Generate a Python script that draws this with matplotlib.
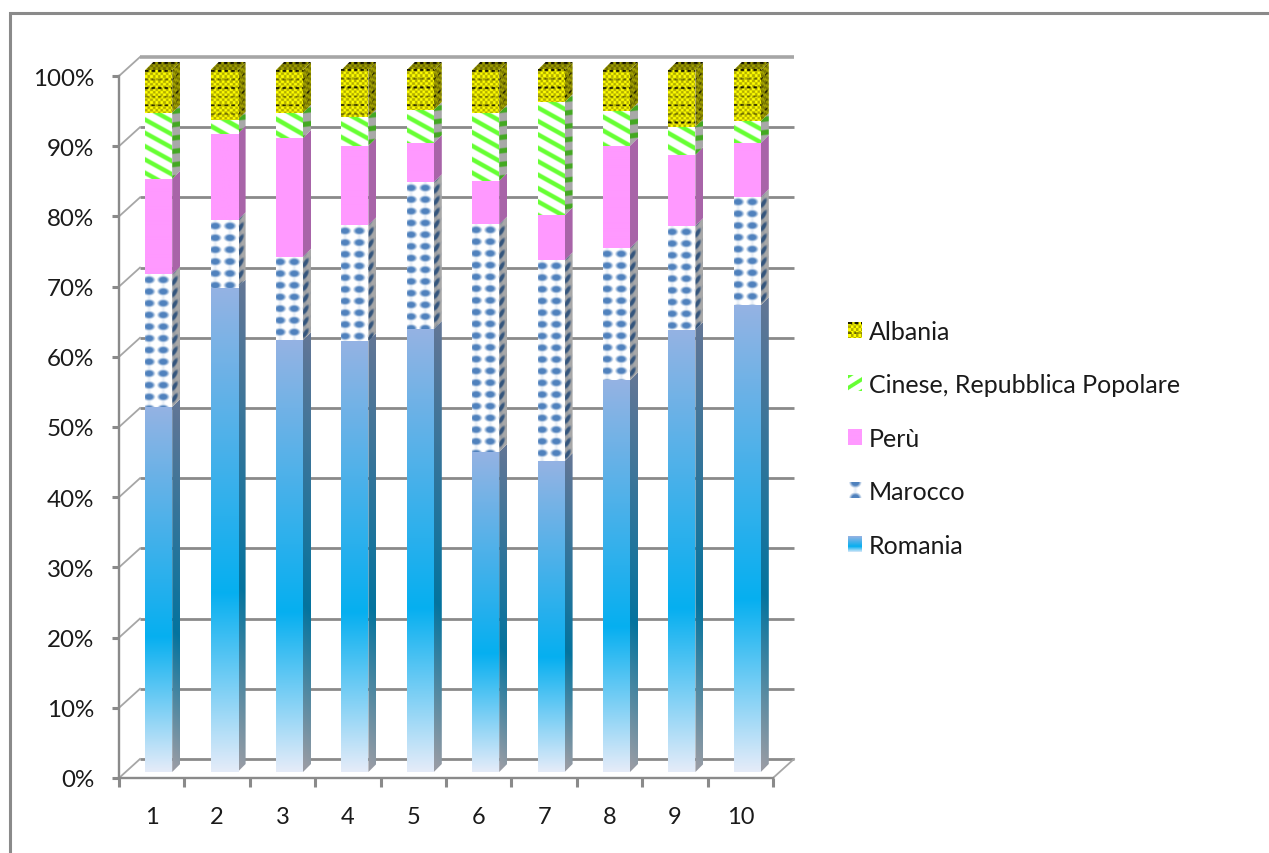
import numpy as np
import matplotlib
matplotlib.use("Agg")
import matplotlib.pyplot as plt
from matplotlib.patches import Polygon, Rectangle, Patch
from matplotlib.image import BboxImage
from matplotlib.transforms import Bbox, TransformedBbox
from matplotlib.legend_handler import HandlerBase

categories = ["1", "2", "3", "4", "5", "6", "7", "8", "9", "10"]
romania = [52.0, 69.0, 61.5, 61.4, 63.1, 45.6, 44.3, 55.8, 63.0, 66.5]
marocco = [18.9, 9.6, 11.9, 16.5, 20.9, 32.4, 28.6, 18.8, 14.8, 15.4]
peru = [13.6, 12.3, 16.9, 11.3, 5.6, 6.2, 6.4, 14.6, 10.1, 7.7]
cinese = [9.4, 2.0, 3.6, 4.1, 4.7, 9.7, 16.1, 5.0, 4.0, 3.1]
albania = [6.1, 7.1, 6.1, 6.7, 5.7, 6.1, 4.6, 5.8, 8.1, 7.3]
series_names = ["Romania", "Marocco", "Perù", "Cinese, Repubblica Popolare", "Albania"]
series_values = [romania, marocco, peru, cinese, albania]
y_ticks = list(range(0, 101, 10))

FONT = "Lato"
GRAY = "#8A8A8A"
W, H = 1269, 854
L, R, T, B = 119, 773, 77, 779
PX_X = (R - L) / 10
PX_Y = (B - T) / 100

fig = plt.figure(figsize=(W / 100, H / 100), dpi=100, facecolor="white")
ax = fig.add_axes([L / W, 1 - B / H, (R - L) / W, (B - T) / H])
ax.set_xlim(0.5, 10.5)
ax.set_ylim(0, 100)


def hex_rgb(c):
    return np.array(matplotlib.colors.to_rgb(c))


def smooth(d):
    return np.clip(d, 0, 1)


def texture(name, X, Y, frac):
    s = X.shape + (3,)
    if name == "Romania":
        stops = [0, 0.37, 1]
        cols = [hex_rgb("#E6ECF9"), hex_rgb("#06AFF0"), hex_rgb("#95B3E3")]
        return np.stack([np.interp(frac, stops, [c[i] for c in cols]) for i in range(3)], -1)
    if name == "Marocco":
        u = ((X + 3) % 14.2) - 7.1
        v = (Y % 11.7) - 5.85
        d = 2.0 * (1.05 - np.sqrt((u / 6.2) ** 2 + (v / 4.2) ** 2))
        a = smooth(d)[..., None]
        v2 = smooth(0.5 - np.abs(u) / 5)[..., None] * 0.3
        a = np.maximum(a, v2)
        return (1 - a) * np.ones(s) + a * hex_rgb("#4F81BD")
    if name == "Perù":
        return np.ones(s) * hex_rgb("#FF99FF")
    if name == "Cinese, Repubblica Popolare":
        p = (Y - 0.55 * X) % 13.3
        a = smooth(2.9 - np.abs(p - 6.6) * 0.95)[..., None]
        return (1 - a) * np.ones(s) + a * hex_rgb("#66FF33")
    if name == "Albania":
        chk = ((np.floor(X / 2.6) + np.floor(Y / 2.6)) % 2)[..., None]
        out = (1 - chk * 0.6) * hex_rgb("#FFFF00") + chk * 0.6 * hex_rgb("#7D7600")
        row = ((Y % 8.6) < 1.8) & ((X % 6.5) < 3.6)
        strong = (Y % 17.2) < 8.6
        out[row & strong] = out[row & strong] * 0.12
        out[row & ~strong] = out[row & ~strong] * 0.55
        return out
    raise ValueError(name)


def front_image(name, x0, x1, y0, y1, base0, top, zorder):
    w = max(int(round((x1 - x0) * PX_X)) * 2, 2)
    h = max(int(round((y1 - y0) * PX_Y)) * 2, 2)
    X, Y = np.meshgrid((np.arange(w) + .5) / 2, (np.arange(h) + .5) / 2)
    frac = (y1 - (Y / PX_Y) - base0) / (top - base0)
    im = ax.imshow(texture(name, X, Y, frac), extent=[x0, x1, y0, y1], origin="upper",
                   aspect="auto", interpolation="bilinear", zorder=zorder, clip_on=False)
    return im


DX = 8 / PX_X   # bar depth, axis units
DY = 8 / PX_Y


def side_image(name, x1, y0, y1, base0, top, zorder, shade):
    w, h = 16, max(int(round((y1 - y0 + DY) * PX_Y)) * 2, 2)
    U, V = np.meshgrid((np.arange(w) + .5) / 2, (np.arange(h) + .5) / 2)
    frac = np.clip((y1 - (V - U) / PX_Y - base0) / (top - base0), 0, 1)
    rgb = texture(name, U * 1.6, V + U, frac) * shade
    im = ax.imshow(rgb, extent=[x1, x1 + DX, y0, y1 + DY], origin="upper", aspect="auto",
                   interpolation="bilinear", zorder=zorder)
    poly = Polygon([[x1, y0], [x1, y1], [x1 + DX, y1 + DY], [x1 + DX, y0 + DY]],
                   transform=ax.transData)
    im.set_clip_box(fig.bbox)
    im.set_clip_path(poly)


def top_image(name, x0, x1, y1, zorder):
    w, h = int((x1 - x0 + DX) * PX_X) * 2, 16
    X, Y = np.meshgrid((np.arange(w) + .5) / 2, (np.arange(h) + .5) / 2)
    rgb = texture(name, X, Y, np.ones_like(X)) * 0.62
    im = ax.imshow(rgb, extent=[x0, x1 + DX, y1, y1 + DY], origin="upper", aspect="auto",
                   interpolation="bilinear", zorder=zorder)
    poly = Polygon([[x0, y1], [x1, y1], [x1 + DX, y1 + DY], [x0 + DX, y1 + DY]],
                   transform=ax.transData)
    im.set_clip_box(fig.bbox)
    im.set_clip_path(poly)


# back wall
WX = 21 / PX_X
WY = 19 / PX_Y
for v in y_ticks:
    lw = 2.6 if v == 100 else 2.0
    col = "#A6A6A6" if v == 100 else GRAY
    ax.plot([0.5 + WX, 10.5 + WX], [v + WY, v + WY], color=col, lw=lw, clip_on=False, zorder=1,
            solid_capstyle="butt")
    ax.plot([0.5, 0.5 + WX], [v, v + WY], color="#A6A6A6", lw=1.3, clip_on=False, zorder=1)
ax.plot([10.5, 10.5 + WX], [0, WY], color="#A6A6A6", lw=1.3, clip_on=False, zorder=1)

# bars
BAR_W = 27 / PX_X
SHIFT_X = 7 / PX_X
SHIFT_Y = 6 / PX_Y
for i, cat in enumerate(categories):
    x0 = i + 1 + SHIFT_X - BAR_W / 2
    x1 = x0 + BAR_W
    base = 0.0
    z = 3 + i * 0.01
    for name, vals in zip(series_names, series_values):
        v = vals[i]
        y0, y1 = base + SHIFT_Y, base + v + SHIFT_Y
        front_image(name, x0, x1, y0, y1, y0, y1, z + 0.002)
        side_image(name, x1, y0, y1, y0, y1, z, 0.66)
        base += v
    top_image("Albania", x0, x1, base + SHIFT_Y, z)

ax.set_xlim(0.5, 10.5)
ax.set_ylim(0, 100)

# axes
for s in ("top", "right"):
    ax.spines[s].set_visible(False)
for s in ("left", "bottom"):
    ax.spines[s].set_color(GRAY)
    ax.spines[s].set_linewidth(1.7)
ax.patch.set_alpha(0)
ax.set_xticks(np.arange(0.5, 11, 1))
ax.set_xticklabels([])
ax.set_xticks(np.arange(1, 11), labels=categories, minor=True)
ax.tick_params(axis="x", which="major", length=6.5, width=2.2, color=GRAY)
ax.tick_params(axis="x", which="minor", length=0, pad=20, labelsize=17, labelcolor="#1a1a1a")
ax.set_yticks(y_ticks)
ax.set_yticklabels([f"{v}%" for v in y_ticks])
ax.tick_params(axis="y", length=5, width=2.2, color=GRAY, pad=13, labelsize=17.4, labelcolor="#1a1a1a")
for t in ax.get_xticklabels(minor=True) + ax.get_yticklabels():
    t.set_fontfamily(FONT)

# outer chart frame
fig.add_artist(Rectangle((9.5 / W, -0.02), 1.1, 1.02 - 14 / H, transform=fig.transFigure,
                         fill=False, edgecolor=GRAY, lw=2.2))


class TextureHandler(HandlerBase):
    def create_artists(self, legend, orig, xd, yd, width, height, fontsize, trans):
        bb = TransformedBbox(Bbox.from_bounds(-xd, -yd, width, height), trans)
        name = orig.get_label()
        X, Y = np.meshgrid(np.arange(28) / 2, np.arange(28) / 2)
        frac = 1 - Y / 14
        im = BboxImage(bb, interpolation="bilinear", origin="upper")
        if name == "Marocco":
            X = X - 3
            Y = Y * 0.85 + 5.85
        elif name == "Cinese, Repubblica Popolare":
            X = 14 - X * 1.3
            Y = Y * 1.3
        im.set_data(texture(name, X, Y, frac))
        return [im]


handles = [Patch(label=n) for n in series_names[::-1]]
leg = fig.legend(handles=handles, labels=series_names[::-1], loc="upper left",
                 bbox_to_anchor=(848 / W, 1 - 321 / H), bbox_transform=fig.transFigure,
                 frameon=False, prop={"family": FONT, "size": 18},
                 borderpad=0, borderaxespad=0, handlelength=0.56, handleheight=0.56,
                 handletextpad=0.27, labelspacing=1.22,
                 handler_map={Patch: TextureHandler()})
for t in leg.get_texts():
    t.set_color("#1a1a1a")

fig.savefig("out.png", dpi=100)
